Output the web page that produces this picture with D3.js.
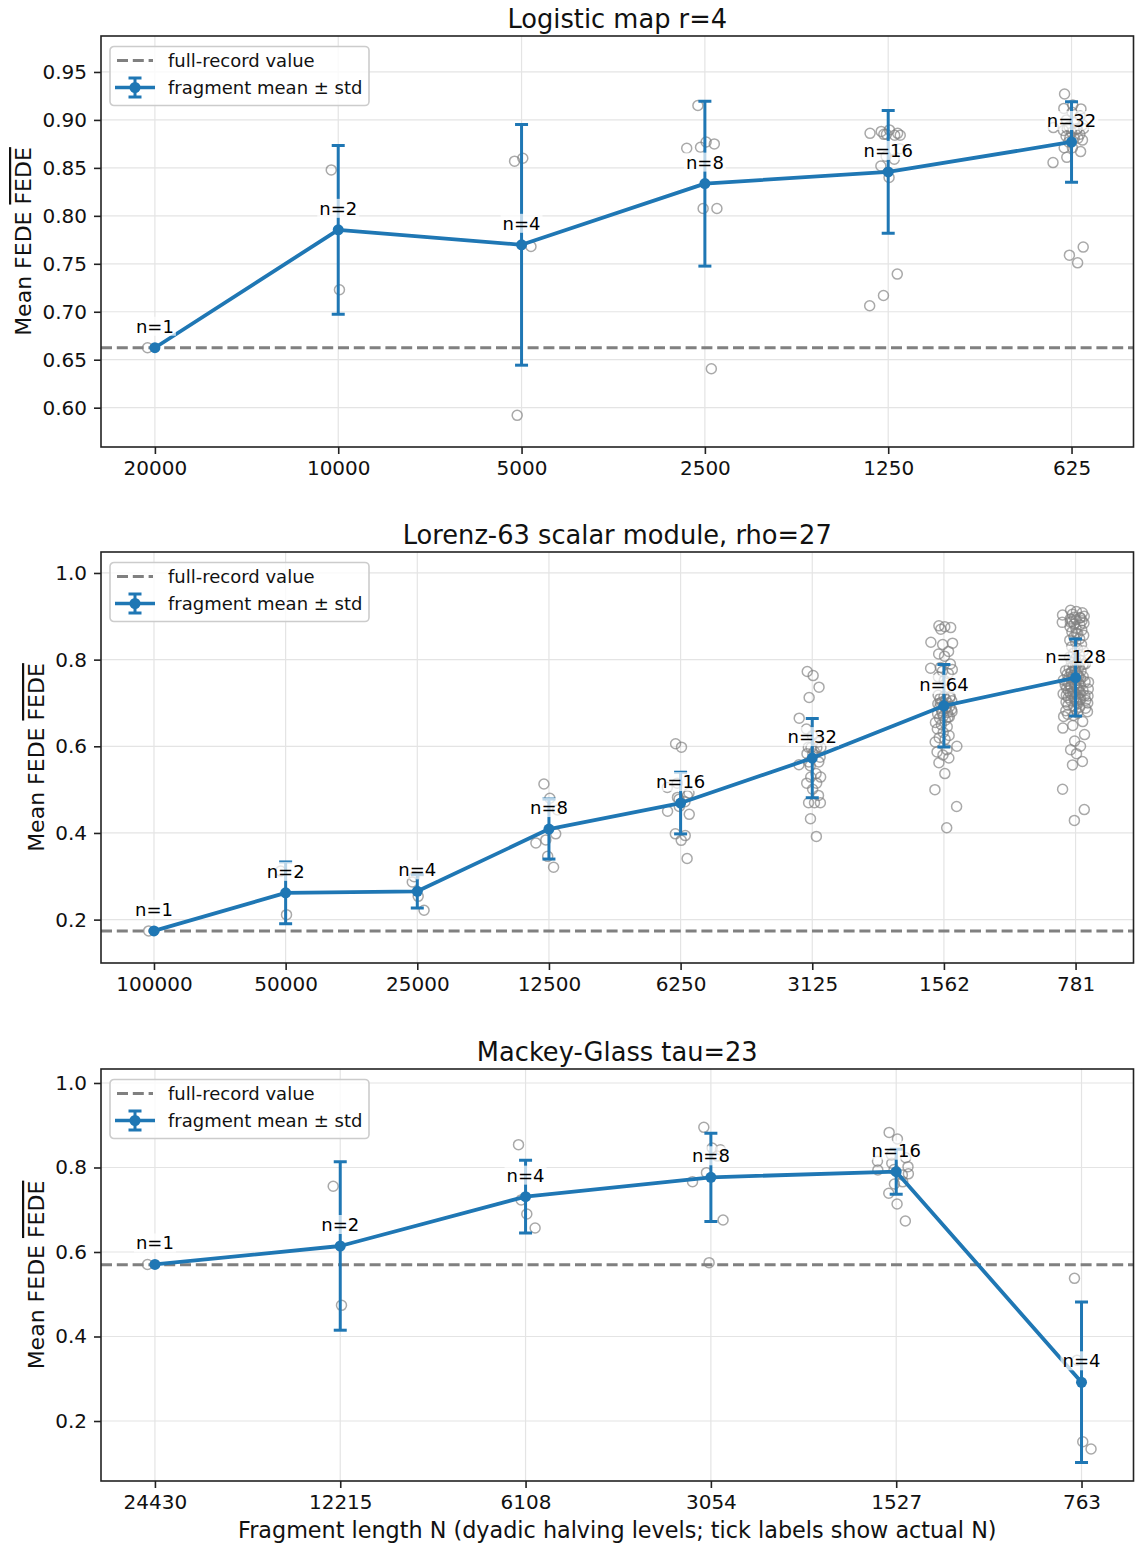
<!DOCTYPE html>
<html>
<head>
<meta charset="utf-8">
<script src="https://cdn.jsdelivr.net/npm/d3@7"></script>
<style>
body { margin: 0; background: #fff; }
svg { display: block; font-family: "DejaVu Sans", sans-serif; }
</style>
</head>
<body>
<svg id="chart" width="1135" height="1544"></svg>
<script>
// ---- Logistic map r=4 ----
const logisticLabels = ["20000", "10000", "5000", "2500", "1250", "625"];
const logisticFull = 0.6625;
const logisticMean = [0.6625, 0.7854, 0.7698, 0.8336, 0.8458, 0.8770];
const logisticStd = [0, 0.0880, 0.1255, 0.0860, 0.0640, 0.0420];
const logisticPoints = [
    [0.6625],
    [0.8479, 0.7229],
    [0.857, 0.860, 0.768, 0.592],
    [0.915, 0.877, 0.875, 0.8715, 0.8705, 0.8076, 0.8076, 0.6406],
    [0.888, 0.8896, 0.886, 0.885, 0.886, 0.884, 0.885, 0.884, 0.852, 0.840, 0.7393, 0.717, 0.7063, 0.870, 0.862, 0.859],
    [0.927, 0.9156, 0.9115, 0.891, 0.892, 0.891, 0.881, 0.881, 0.871, 0.871, 0.867, 0.861, 0.8555, 0.7674, 0.759, 0.751,
     0.912, 0.908, 0.904, 0.900, 0.897, 0.895, 0.893, 0.891, 0.889, 0.887, 0.885, 0.883, 0.881, 0.879, 0.877, 0.890]
];
const logisticYTicks = [0.60, 0.65, 0.70, 0.75, 0.80, 0.85, 0.90, 0.95];

// ---- Lorenz-63 scalar module, rho=27 ----
const lorenzLabels = ["100000", "50000", "25000", "12500", "6250", "3125", "1562", "781"];
const lorenzFull = 0.174;
const lorenzMean = [0.174, 0.2618, 0.2653, 0.409, 0.469, 0.5728, 0.6934, 0.7587];
const lorenzStd = [0, 0.0713, 0.0385, 0.0692, 0.0712, 0.0915, 0.0952, 0.0890];
const lorenzPoints = [
    [0.174],
    [0.312, 0.2115],
    [0.287, 0.2537, 0.2215, 0.299],
    [0.513, 0.480, 0.398, 0.384, 0.377, 0.453, 0.346, 0.321],
    [0.606, 0.598, 0.486, 0.482, 0.450, 0.443, 0.461, 0.394, 0.398, 0.383, 0.341, 0.515, 0.505, 0.492, 0.478, 0.472],
    [0.7725, 0.7632, 0.7365, 0.7125, 0.665, 0.597, 0.597, 0.597, 0.583, 0.583, 0.564, 0.564, 0.5573, 0.529, 0.529, 0.515,
     0.515, 0.501, 0.4866, 0.4697, 0.4697, 0.4697, 0.4329, 0.392, 0.640, 0.625, 0.610, 0.598, 0.588, 0.575, 0.555, 0.537],
    [0.878, 0.876, 0.874, 0.870, 0.840, 0.838, 0.835, 0.819, 0.813, 0.808, 0.790, 0.782, 0.780, 0.777, 0.773, 0.768,
     0.760, 0.752, 0.715, 0.700, 0.690, 0.680, 0.676, 0.667, 0.718, 0.715, 0.712, 0.710, 0.708, 0.705, 0.702, 0.700,
     0.698, 0.695, 0.692, 0.690, 0.688, 0.685, 0.682, 0.678, 0.675, 0.670, 0.668, 0.665, 0.660, 0.655, 0.650, 0.645,
     0.640, 0.632, 0.625, 0.620, 0.616, 0.610, 0.600, 0.592, 0.587, 0.580, 0.573, 0.562, 0.537, 0.500, 0.461, 0.412],
    [0.914, 0.911, 0.908, 0.905, 0.903, 0.900, 0.898, 0.896, 0.894, 0.892, 0.890, 0.888, 0.886, 0.884, 0.882, 0.880,
     0.876, 0.872, 0.868, 0.864, 0.860, 0.856, 0.852, 0.848,
     0.845, 0.840, 0.835, 0.830, 0.825, 0.820, 0.815, 0.810, 0.806, 0.802,
     0.798, 0.795, 0.792, 0.789, 0.786, 0.783, 0.780, 0.777, 0.774, 0.771, 0.768, 0.766, 0.764, 0.762, 0.760,
     0.758, 0.756, 0.754, 0.752, 0.750, 0.748, 0.746, 0.744, 0.742, 0.740, 0.738, 0.736, 0.734, 0.732, 0.730,
     0.728, 0.726, 0.724, 0.722, 0.720, 0.718, 0.716, 0.714, 0.712, 0.710, 0.708, 0.706, 0.704, 0.702, 0.700,
     0.698, 0.695, 0.692, 0.690, 0.688, 0.685, 0.682, 0.680, 0.677, 0.674, 0.671, 0.669,
     0.790, 0.785, 0.775, 0.770, 0.765, 0.761, 0.757, 0.753, 0.749, 0.745, 0.741, 0.737, 0.733, 0.729, 0.725, 0.721,
     0.717, 0.713, 0.709, 0.705, 0.701,
     0.657, 0.648, 0.642, 0.627, 0.612, 0.600, 0.592, 0.583, 0.565, 0.557, 0.501, 0.454, 0.429,
     0.897, 0.887, 0.862]
];
const unitYTicks = [0.2, 0.4, 0.6, 0.8, 1.0];

// ---- Mackey-Glass tau=23 ----
const mackeyLabels = ["24430", "12215", "6108", "3054", "1527", "763"];
const mackeyFull = 0.570;
const mackeyMean = [0.5705, 0.6142, 0.731, 0.7768, 0.790, 0.2916];
const mackeyStd = [0, 0.1993, 0.0861, 0.1045, 0.0533, 0.1901];
const mackeyPoints = [
    [0.5705],
    [0.7555, 0.4738],
    [0.854, 0.690, 0.6568, 0.7232],
    [0.895, 0.846, 0.842, 0.7878, 0.7665, 0.6757, 0.5747, 0.827],
    [0.883, 0.8675, 0.823, 0.810, 0.794, 0.785, 0.761, 0.766, 0.739, 0.7136, 0.6734, 0.830, 0.815, 0.802, 0.795, 0.7825],
    [0.5377, 0.151, 0.1337, 0.344]
];

const BLUE = "#1f77b4";
const xLeft = 101, xRight = 1133.5;

const panels = [
    { title: "Logistic map r=4", labels: logisticLabels, full: logisticFull, mean: logisticMean,
      std: logisticStd, points: logisticPoints, yTicks: logisticYTicks, fmt: d3.format(".2f"),
      xDomain: [-0.294, 5.338], yDomain: [0.559, 0.9875], top: 36, bottom: 447, ylabelX: 31, xlabel: null },
    { title: "Lorenz-63 scalar module, rho=27", labels: lorenzLabels, full: lorenzFull, mean: lorenzMean,
      std: lorenzStd, points: lorenzPoints, yTicks: unitYTicks, fmt: d3.format(".1f"),
      xDomain: [-0.4024, 7.44], yDomain: [0.0999, 1.0484], top: 552, bottom: 963, ylabelX: 44, xlabel: null },
    { title: "Mackey-Glass tau=23", labels: mackeyLabels, full: mackeyFull, mean: mackeyMean,
      std: mackeyStd, points: mackeyPoints, yTicks: unitYTicks, fmt: d3.format(".1f"),
      xDomain: [-0.291, 5.2805], yDomain: [0.058, 1.0331], top: 1069, bottom: 1481, ylabelX: 44,
      xlabel: "Fragment length N (dyadic halving levels; tick labels show actual N)" }
];

const svg = d3.select("#chart");

// spread of the grey dots around each level (deterministic)
function jitter(j) {
    const a = (j * 0.6180339) % 1, b = (j * 0.7548777 + 0.31) % 1;
    return (a + b - 1) * 0.12;
}

panels.forEach((p, pi) => {
    const x = d3.scaleLinear().domain(p.xDomain).range([xLeft, xRight]);
    const y = d3.scaleLinear().domain(p.yDomain).range([p.bottom, p.top]);
    const idx = d3.range(p.labels.length);

    const clipId = "clip" + pi;
    svg.append("clipPath").attr("id", clipId)
        .append("rect")
        .attr("x", xLeft).attr("y", p.top)
        .attr("width", xRight - xLeft).attr("height", p.bottom - p.top);

    const g = svg.append("g");
    const plot = g.append("g").attr("clip-path", `url(#${clipId})`);

    // grid
    plot.append("g").selectAll("line").data(idx).join("line")
        .attr("x1", d => x(d)).attr("x2", d => x(d))
        .attr("y1", p.top).attr("y2", p.bottom)
        .attr("stroke", "#e4e4e4").attr("stroke-width", 1.2);
    plot.append("g").selectAll("line").data(p.yTicks).join("line")
        .attr("x1", xLeft).attr("x2", xRight)
        .attr("y1", d => y(d)).attr("y2", d => y(d))
        .attr("stroke", "#e4e4e4").attr("stroke-width", 1.2);

    // individual fragment values
    const pts = p.points.flatMap((arr, i) => arr.map((v, j) => ({ i, v, j })));
    plot.append("g").selectAll("circle").data(pts).join("circle")
        .attr("cx", d => x(d.i + (p.points[d.i].length > 1 ? jitter(d.j + 1) : -0.04)))
        .attr("cy", d => y(d.v))
        .attr("r", 5)
        .attr("fill", "none")
        .attr("stroke", "#808080")
        .attr("stroke-opacity", 0.68)
        .attr("stroke-width", 1.5);

    // full-record reference
    plot.append("line")
        .attr("x1", xLeft).attr("x2", xRight)
        .attr("y1", y(p.full)).attr("y2", y(p.full))
        .attr("stroke", "#808080").attr("stroke-width", 3)
        .attr("stroke-dasharray", "11,4.8");

    // error bars
    const eb = plot.append("g").attr("stroke", BLUE).attr("stroke-width", 3);
    idx.filter(i => p.std[i] > 0).forEach(i => {
        const cx = x(i), y1 = y(p.mean[i] - p.std[i]), y2 = y(p.mean[i] + p.std[i]);
        eb.append("line").attr("x1", cx).attr("x2", cx).attr("y1", y1).attr("y2", y2);
        eb.append("line").attr("x1", cx - 6.5).attr("x2", cx + 6.5).attr("y1", y1).attr("y2", y1);
        eb.append("line").attr("x1", cx - 6.5).attr("x2", cx + 6.5).attr("y1", y2).attr("y2", y2);
    });

    // mean line + markers
    plot.append("path")
        .datum(idx)
        .attr("fill", "none")
        .attr("stroke", BLUE)
        .attr("stroke-width", 3.8)
        .attr("stroke-linejoin", "round")
        .attr("d", d3.line().x(i => x(i)).y(i => y(p.mean[i])));
    plot.append("g").selectAll("circle").data(idx).join("circle")
        .attr("cx", i => x(i)).attr("cy", i => y(p.mean[i]))
        .attr("r", 5.5).attr("fill", BLUE);

    // n= labels with translucent white box
    idx.forEach(i => {
        const lg = g.append("g");
        const bg = lg.append("rect");
        const t = lg.append("text")
            .attr("x", x(i)).attr("y", y(p.mean[i]) - 15)
            .attr("text-anchor", "middle")
            .style("font-size", "18px")
            .text("n=" + p.points[i].length);
        const bb = t.node().getBBox();
        bg.attr("x", bb.x - 2).attr("y", bb.y + 1)
            .attr("width", bb.width + 4).attr("height", bb.height - 2)
            .attr("fill", "#fff").attr("fill-opacity", 0.7);
    });

    // frame
    g.append("rect")
        .attr("x", xLeft).attr("y", p.top)
        .attr("width", xRight - xLeft).attr("height", p.bottom - p.top)
        .attr("fill", "none").attr("stroke", "#222").attr("stroke-width", 1.6);

    // axes
    const xAxis = g.append("g")
        .attr("transform", `translate(0,${p.bottom})`)
        .call(d3.axisBottom(x).tickValues(idx).tickFormat(i => p.labels[i]).tickSize(7).tickPadding(7));
    const yAxis = g.append("g")
        .attr("transform", `translate(${xLeft},0)`)
        .call(d3.axisLeft(y).tickValues(p.yTicks).tickFormat(p.fmt).tickSize(7).tickPadding(7));
    [xAxis, yAxis].forEach(a => {
        a.select(".domain").remove();
        a.selectAll("line").attr("stroke", "#222").attr("stroke-width", 1.6);
        a.selectAll("text")
            .attr("fill", "#111")
            .style("font-size", "20px")
            .style("font-family", "DejaVu Sans, sans-serif");
    });

    // title
    g.append("text")
        .attr("x", (xLeft + xRight) / 2).attr("y", p.top - 8.5)
        .attr("text-anchor", "middle")
        .style("font-size", "25.7px")
        .attr("fill", "#111")
        .text(p.title);

    // y label with overlined FEDE
    const yl = g.append("text")
        .attr("transform", `translate(${p.ylabelX},${(p.top + p.bottom) / 2}) rotate(-90)`)
        .attr("text-anchor", "middle")
        .style("font-size", "22px")
        .attr("fill", "#111");
    yl.append("tspan").text("Mean FEDE ");
    yl.append("tspan").style("text-decoration", "overline").text("FEDE");

    if (p.xlabel) {
        g.append("text")
            .attr("x", (xLeft + xRight) / 2).attr("y", p.bottom + 57)
            .attr("text-anchor", "middle")
            .style("font-size", "22.3px")
            .attr("fill", "#111")
            .text(p.xlabel);
    }

    // legend
    const lg = g.append("g").attr("transform", `translate(110,${p.top + 10.5})`);
    lg.append("rect")
        .attr("width", 259).attr("height", 59).attr("rx", 4)
        .attr("fill", "#fff").attr("fill-opacity", 0.8)
        .attr("stroke", "#cccccc").attr("stroke-width", 1.6);
    lg.append("line")
        .attr("x1", 7).attr("x2", 43).attr("y1", 14).attr("y2", 14)
        .attr("stroke", "#808080").attr("stroke-width", 3).attr("stroke-dasharray", "11,4.8");
    lg.append("text").attr("x", 58).attr("y", 14).attr("dy", "0.35em")
        .style("font-size", "18px").attr("fill", "#111").text("full-record value");
    const h = lg.append("g").attr("stroke", BLUE).attr("stroke-width", 3);
    h.append("line").attr("x1", 25).attr("x2", 25).attr("y1", 31.5).attr("y2", 50.5);
    h.append("line").attr("x1", 18.5).attr("x2", 31.5).attr("y1", 31.5).attr("y2", 31.5);
    h.append("line").attr("x1", 18.5).attr("x2", 31.5).attr("y1", 50.5).attr("y2", 50.5);
    h.append("line").attr("x1", 5).attr("x2", 45).attr("y1", 41).attr("y2", 41).attr("stroke-width", 3.5);
    lg.append("circle").attr("cx", 25).attr("cy", 41).attr("r", 5.5).attr("fill", BLUE);
    lg.append("text").attr("x", 58).attr("y", 41).attr("dy", "0.35em")
        .style("font-size", "18px").attr("fill", "#111").text("fragment mean \u00b1 std");
});
</script>
</body>
</html>
